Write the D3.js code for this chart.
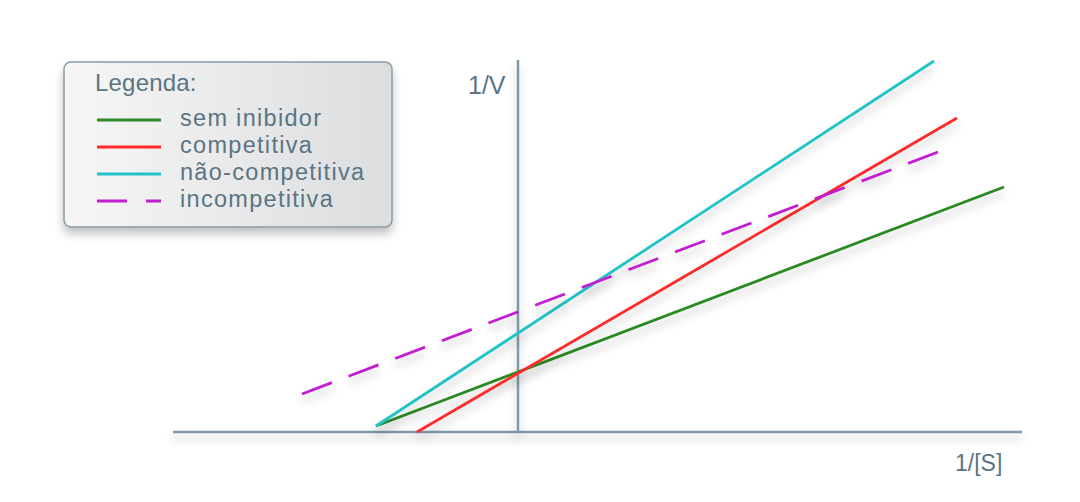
<!DOCTYPE html>
<html><head><meta charset="utf-8">
<script src="https://cdn.jsdelivr.net/npm/d3@7"></script>
<style>html,body{margin:0;padding:0;background:#fff;}svg{display:block;}</style>
</head><body><svg id="c" width="1080" height="502"></svg>
<script>
// Data (units: 1/[S] on x, 1/V on y)
const seriesNames = ["sem inibidor", "competitiva", "não-competitiva", "incompetitiva"];
const seriesColors = ["#2b8a24", "#ff2b2b", "#22c3c6", "#c21dd1"];
const seriesDashed = [false, false, false, true];
const xStart = [-1.42, -1.01, -1.42, -2.16];
const xEnd = [4.86, 4.39, 4.16, 4.20];
const yStart = [0.06, 0.00, 0.06, 0.38];
const yEnd = [2.45, 3.14, 3.71, 2.80];
const xAxisLabel = "1/[S]";
const yAxisLabel = "1/V";
const legendTitle = "Legenda:";

const svg = d3.select("#c");
const x = d3.scaleLinear().domain([-3.45, 5.04]).range([173, 1022]);
const y = d3.scaleLinear().domain([0, 3.72]).range([432, 60]);

const defs = svg.append("defs");
const f = defs.append("filter").attr("id","sh").attr("filterUnits","userSpaceOnUse")
  .attr("x",0).attr("y",0).attr("width",1080).attr("height",502);
f.append("feGaussianBlur").attr("in","SourceAlpha").attr("stdDeviation",5).attr("result","b");
f.append("feOffset").attr("dx",0).attr("dy",6).attr("result","o");
f.append("feComponentTransfer").append("feFuncA").attr("type","linear").attr("slope",0.25);
const m = f.append("feMerge"); m.append("feMergeNode"); m.append("feMergeNode").attr("in","SourceGraphic");

const g = defs.append("linearGradient").attr("id","lg").attr("x1","0").attr("x2","1").attr("y1","0").attr("y2","0");
g.append("stop").attr("offset","0").attr("stop-color","#f6f6f6");
g.append("stop").attr("offset","1").attr("stop-color","#dcdddf");

const axisColor = "#7d9aaa";
// axes through origin
svg.append("line").attr("x1", x(-3.45)).attr("x2", x(5.04)).attr("y1", y(0)).attr("y2", y(0))
  .attr("stroke", axisColor).attr("stroke-width", 2.5).attr("filter","url(#sh)");
svg.append("line").attr("x1", x(0)).attr("x2", x(0)).attr("y1", y(0)).attr("y2", y(3.72))
  .attr("stroke", axisColor).attr("stroke-width", 2.5).attr("filter","url(#sh)");

const data = seriesNames.map((n,i)=>({n, c:seriesColors[i], d:seriesDashed[i], pts:[[xStart[i],yStart[i]],[xEnd[i],yEnd[i]]]}));
const line = d3.line().x(p=>x(p[0])).y(p=>y(p[1]));
const paths = svg.selectAll("path.s").data(data).join("path").attr("class","s")
  .attr("d", d=>line(d.pts)).attr("fill","none").attr("stroke", d=>d.c).attr("stroke-width", 2.8)
  .attr("filter","url(#sh)");
// dashed: 14 dashes ending exactly at both ends
paths.filter(d=>d.d).each(function(){
  const L = this.getTotalLength(), n = 14, gap = 18;
  const dash = (L - (n-1)*gap)/n;
  d3.select(this).attr("stroke-dasharray", dash + "," + gap);
});

const txt = "#5a7484";
const font = "'Liberation Sans', Arial, sans-serif";
svg.append("text").attr("x", 468).attr("y", 94).attr("font-family", font).attr("font-size", 25).attr("fill", txt).text(yAxisLabel);
svg.append("text").attr("x", 955).attr("y", 471).attr("font-family", font).attr("font-size", 23).attr("fill", txt).text(xAxisLabel);

// legend
const Lg = svg.append("g");
Lg.append("rect").attr("x",64).attr("y",62).attr("width",328).attr("height",165).attr("rx",7)
  .attr("fill","url(#lg)").attr("stroke","#8b9ba4").attr("stroke-width",1.5).attr("filter","url(#sh)");
Lg.append("text").attr("x",95).attr("y",91).attr("font-family",font).attr("font-size",24).attr("letter-spacing",0.2).attr("fill",txt).text(legendTitle);
const rowY = [120, 147, 174, 201];
data.forEach((d,i)=>{
  Lg.append("line").attr("x1",97).attr("x2",161).attr("y1",rowY[i]).attr("y2",rowY[i])
    .attr("stroke",d.c).attr("stroke-width",3).attr("stroke-dasharray", d.d ? "30,19" : null);
  Lg.append("text").attr("x",180).attr("y",rowY[i]+6).attr("font-family",font).attr("font-size",23.5).attr("letter-spacing",1.3).attr("fill",txt).text(d.n);
});
</script></body></html>
